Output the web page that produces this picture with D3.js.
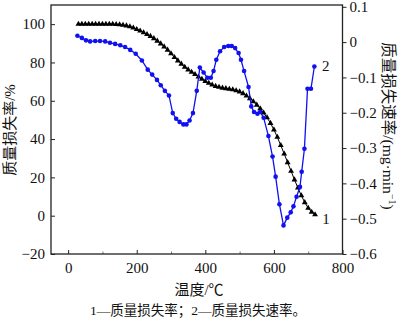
<!DOCTYPE html>
<html>
<head>
<meta charset="utf-8">
<script src="https://cdn.jsdelivr.net/npm/d3@7"></script>
<style>
  html, body { margin: 0; padding: 0; background: #fff; }
  svg { display: block; }
  text { font-family: "Liberation Serif", "Noto Sans CJK SC", serif; fill: #111; }
</style>
</head>
<body>
<svg id="chart" width="400" height="322"></svg>
<script>
// Curve 1: mass loss (%) measured every 10 °C
const massTemps = d3.range(30, 721, 10);
const massLoss = [
  100, 100, 100, 100, 100, 100, 100, 100, 100, 100, 100,
  99.9, 99.8, 99.5, 99.2, 98.7, 98.1, 97.3, 96.5, 95.6, 94.7,
  93.7, 92.5, 91.2, 89.8, 88.2, 86.5, 84.6, 82.7, 80.9, 79.2,
  77.6, 76.2, 75.0, 73.8, 72.5, 71.3, 70.2, 69.2, 68.3, 67.6,
  67.1, 66.7, 66.4, 66.1, 65.8, 65.3, 64.7, 63.8, 62.6, 61.2,
  59.6, 57.8, 55.9, 53.7, 51.2, 48.3, 44.9, 41.0, 36.7, 32.3,
  27.8, 23.3, 18.8, 14.5, 10.5, 6.9, 4.0, 1.9, 0.6
];

// Curve 2: mass loss rate (mg·min⁻¹)
const rateTemps = [
  27, 40, 52, 64, 79, 93, 108, 122, 137, 152, 166, 181, 197, 215, 232, 245,
  259, 270, 282, 294, 305, 315, 325, 336, 345, 354, 364, 375, 384, 395, 406,
  416, 424, 432, 443, 455, 467, 477, 487, 497, 504, 513, 526, 534, 542, 552,
  560, 570, 584, 596, 605, 616, 628, 639, 649, 657, 666, 676, 681, 689, 698,
  708, 718
];
const lossRate = [
  0.018, 0.012, 0.005, 0.002, 0.003, 0.003, 0.002, -0.002, -0.005, -0.009,
  -0.014, -0.022, -0.033, -0.052, -0.078, -0.092, -0.107, -0.122, -0.138,
  -0.151, -0.201, -0.217, -0.226, -0.233, -0.233, -0.222, -0.201, -0.138,
  -0.072, -0.086, -0.101, -0.101, -0.082, -0.050, -0.026, -0.014, -0.011,
  -0.011, -0.017, -0.031, -0.050, -0.082, -0.127, -0.182, -0.198, -0.203,
  -0.198, -0.214, -0.266, -0.324, -0.381, -0.459, -0.519, -0.497, -0.482,
  -0.465, -0.438, -0.410, -0.367, -0.302, -0.132, -0.132, -0.069
];

const xTicks = [0, 200, 400, 600, 800];
const xMinorTicks = [100, 300, 500, 700];
const leftTicks = [-20, 0, 20, 40, 60, 80, 100];
const rightTicks = [-0.6, -0.5, -0.4, -0.3, -0.2, -0.1, 0, 0.1];

const xTitle = "温度/℃";
const leftTitle = "质量损失率/%";
const rightTitle = "质量损失速率/(mg·min";
const caption = "1—质量损失率；2—质量损失速率。";

const svg = d3.select("#chart");
const L = 51, R = 342.5, T = 5, B = 254;

const x = d3.scaleLinear().domain([-50, 800]).range([L, R]);
const yL = d3.scaleLinear().domain([-20, 110]).range([B, T]);
const yR = d3.scaleLinear().domain([-0.6, 0.1]).range([B, 6.8]);

const fmt = v => (v < 0 ? "\u2212" + d3.format("")(-v) : d3.format("")(v));

// bottom axis, ticks pointing inward
const xAxis = svg.append("g").attr("transform", `translate(0,${B})`)
  .call(d3.axisBottom(x).tickValues(xTicks).tickSize(-4).tickPadding(8).tickFormat(fmt));
svg.append("g").attr("transform", `translate(0,${B})`)
  .call(d3.axisBottom(x).tickValues(xMinorTicks).tickSize(-2.5).tickFormat(""))
  .call(g => g.select(".domain").remove())
  .selectAll("line").attr("stroke", "#777");

// left axis, ticks pointing inward
const lAxis = svg.append("g").attr("transform", `translate(${L},0)`)
  .call(d3.axisLeft(yL).tickValues(leftTicks).tickSize(-4).tickPadding(6).tickFormat(fmt));

// right axis, ticks pointing outward
const rAxis = svg.append("g").attr("transform", `translate(${R},0)`)
  .call(d3.axisRight(yR).tickValues(rightTicks).tickSize(4).tickPadding(3).tickFormat(fmt));

[xAxis, lAxis, rAxis].forEach(g => {
  g.select(".domain").remove();
  g.selectAll("line").attr("stroke", "#222").attr("stroke-width", 1);
  g.selectAll("text").attr("font-size", 15).attr("fill", "#111")
    .attr("font-family", "'Liberation Serif', serif");
});

// frame
svg.append("rect").attr("x", L).attr("y", T).attr("width", R - L).attr("height", B - T)
  .attr("fill", "none").attr("stroke", "#222").attr("stroke-width", 1.3);

// curve 1: mass loss
const massData = massTemps.map((t, i) => [t, massLoss[i]]);
svg.append("path").datum(massData)
  .attr("fill", "none").attr("stroke", "#000").attr("stroke-width", 1)
  .attr("d", d3.line().x(d => x(d[0])).y(d => yL(d[1])));
const tri = d3.symbol().type(d3.symbolTriangle).size(15);
svg.append("g").selectAll("path").data(massData).join("path")
  .attr("transform", d => `translate(${x(d[0])},${yL(d[1])})`)
  .attr("d", tri).attr("fill", "#000");

// curve 2: mass loss rate
const rateData = rateTemps.map((t, i) => [t, lossRate[i]]);
svg.append("path").datum(rateData)
  .attr("fill", "none").attr("stroke", "#1010f0").attr("stroke-width", 1.3)
  .attr("d", d3.line().x(d => x(d[0])).y(d => yR(d[1])));
svg.append("g").selectAll("circle").data(rateData).join("circle")
  .attr("cx", d => x(d[0])).attr("cy", d => yR(d[1])).attr("r", 2.3)
  .attr("fill", "#1010f0");

// curve numbers
svg.append("text").attr("x", x(740)).attr("y", yR(-0.069) + 5)
  .attr("font-size", 15).text("2");
svg.append("text").attr("x", x(741)).attr("y", yR(-0.5) + 5)
  .attr("font-size", 15).text("1");

// titles
svg.append("text").attr("x", 199).attr("y", 295).attr("text-anchor", "middle")
  .attr("font-size", 15).text(xTitle);
svg.append("text").attr("transform", `translate(15,130) rotate(-90)`)
  .attr("text-anchor", "middle").attr("font-size", 15).text(leftTitle);
const rt = svg.append("text").attr("transform", `translate(383,126) rotate(90)`)
  .attr("text-anchor", "middle").attr("font-size", 15.5);
rt.append("tspan").text(rightTitle);
rt.append("tspan").attr("font-size", 10).attr("dy", -6).text("\u22121");
rt.append("tspan").attr("dy", 6).text(")");

svg.append("text").attr("x", 198).attr("y", 315).attr("text-anchor", "middle")
  .attr("font-size", 13.5).attr("fill", "#333").text(caption);
</script>
</body>
</html>
